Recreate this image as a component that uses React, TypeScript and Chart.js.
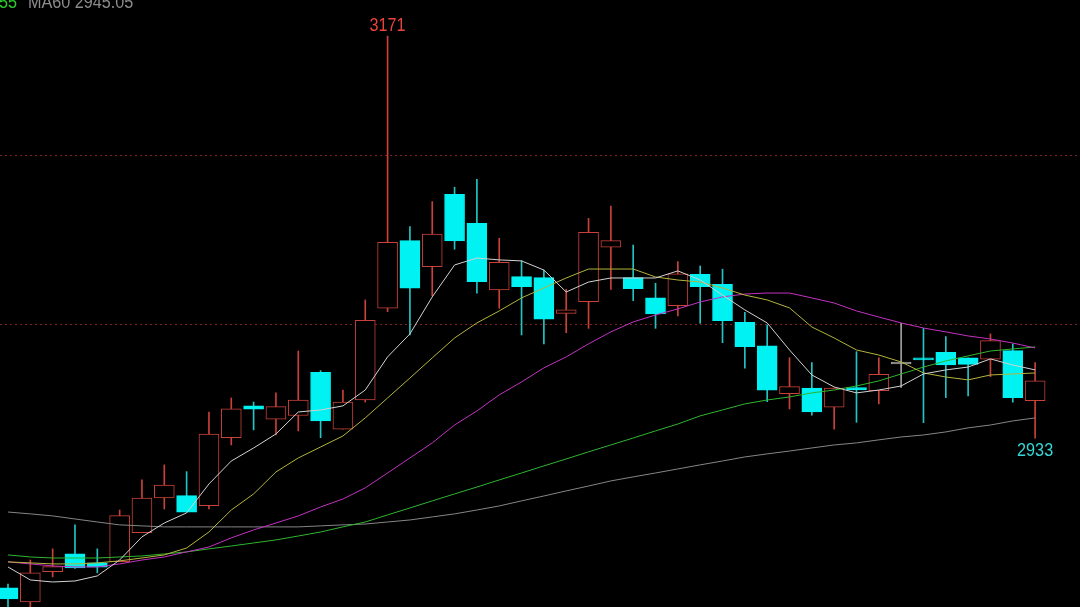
import React, { useEffect, useRef } from "react";
import { Chart, registerables } from "chart.js";

Chart.register(...registerables);

// ---- data ----
const opens = [
  2844.4, 2836.1, 2854.0, 2864.5, 2859.2, 2859.9, 2877.1, 2897.6, 2899.0, 2893.1,
  2933.3, 2952.2, 2944.2, 2946.4, 2972.0, 2938.3, 2955.6, 3009.9, 3049.9, 3034.5,
  3077.3, 3060.2, 3020.7, 3028.6, 3028.0, 3006.9, 3013.8, 3046.0, 3028.0, 3016.1,
  3011.4, 3030.0, 3024.1, 3001.6, 2987.6, 2959.4, 2962.7, 2951.3, 2962.9, 2961.1,
  2976.9, 2980.3, 2983.8, 2980.6, 2979.7, 2984.8, 2955.2,
];
const highs = [
  2846.7, 2860.9, 2867.5, 2881.7, 2867.5, 2890.5, 2908.3, 2917.2, 2913.2, 2948.5,
  2956.8, 2954.4, 2959.8, 2984.6, 2973.0, 2961.5, 3014.8, 3171.0, 3058.2, 3073.0,
  3081.5, 3086.2, 3051.3, 3038.0, 3032.5, 3021.1, 3063.1, 3070.4, 3047.3, 3024.7,
  3037.5, 3034.9, 3033.0, 3007.5, 3000.0, 2980.6, 2977.7, 2962.7, 2984.2, 2980.6,
  3001.0, 2998.0, 2993.1, 2980.6, 2994.7, 2988.8, 2977.7,
];
const lows = [
  2831.4, 2832.5, 2850.9, 2856.0, 2853.3, 2859.9, 2877.1, 2891.1, 2889.2, 2891.1,
  2929.0, 2937.9, 2934.9, 2937.3, 2933.3, 2938.3, 2954.4, 3007.9, 2994.1, 3017.2,
  3044.8, 3018.8, 3009.9, 2994.1, 2988.8, 2995.4, 2998.0, 3021.1, 3014.4, 2998.0,
  3005.3, 3001.0, 2989.5, 2974.4, 2954.6, 2950.3, 2946.6, 2938.3, 2942.4, 2953.3,
  2963.1, 2942.2, 2957.0, 2958.0, 2969.4, 2954.3, 2933.0,
];
const closes = [
  2837.9, 2853.3, 2857.0, 2856.2, 2856.6, 2887.2, 2897.6, 2905.3, 2889.2, 2935.5,
  2950.3, 2950.1, 2951.7, 2955.6, 2943.2, 2954.4, 3002.8, 3048.9, 3021.7, 3053.8,
  3049.7, 3025.6, 3037.1, 3022.7, 3003.4, 3008.9, 3054.8, 3049.9, 3021.5, 3006.5,
  3030.2, 3022.7, 3002.5, 2987.2, 2961.4, 2963.5, 2948.5, 2962.7, 2961.5, 2970.8,
  2976.9, 2979.3, 2976.3, 2976.7, 2990.7, 2957.0, 2966.9,
];

const ma5 = [
  2856.8, 2849.1, 2847.9, 2848.5, 2851.5, 2860.9, 2874.6, 2882.8, 2888.8, 2905.9,
  2919.5, 2927.2, 2935.5, 2948.5, 2949.7, 2952.1, 2961.5, 2981.1, 2994.7, 3016.6,
  3035.5, 3039.6, 3038.5, 3037.9, 3032.5, 3019.5, 3025.4, 3027.8, 3027.8, 3027.8,
  3032.0, 3026.6, 3017.7, 3008.9, 3001.2, 2985.2, 2970.4, 2963.3, 2959.8, 2961.5,
  2963.9, 2971.0, 2973.4, 2975.1, 2979.9, 2976.3, 2973.4,
];
const ma10 = [
  2859.8, 2859.2, 2858.6, 2858.6, 2859.2, 2860.4, 2862.1, 2863.9, 2868.0, 2877.5,
  2890.5, 2900.0, 2913.0, 2921.3, 2927.8, 2934.3, 2945.0, 2956.8, 2968.6, 2980.5,
  2992.3, 3001.2, 3008.3, 3016.0, 3021.9, 3027.8, 3033.1, 3033.1, 3033.1, 3028.4,
  3026.6, 3025.4, 3021.9, 3017.7, 3014.8, 3010.1, 2998.8, 2992.3, 2985.2, 2982.2,
  2978.1, 2971.6, 2969.2, 2967.5, 2970.4, 2971.0, 2971.6,
];
const ma20 = [
  2859.8, 2858.6, 2857.4, 2856.8, 2856.8, 2858.6, 2860.9, 2862.7, 2865.7, 2868.6,
  2874.0, 2878.7, 2882.8, 2887.0, 2892.3, 2897.0, 2903.6, 2912.4, 2921.3, 2930.2,
  2940.8, 2949.1, 2958.6, 2966.3, 2974.6, 2981.1, 2988.8, 2995.9, 3001.8, 3005.9,
  3009.5, 3013.6, 3016.6, 3018.3, 3018.9, 3018.9, 3016.0, 3013.0, 3008.3, 3004.7,
  3001.2, 2998.2, 2995.9, 2993.5, 2991.7, 2989.3, 2986.4,
];
const ma30 = [
  2863.9, 2862.7, 2862.1, 2862.1, 2862.1, 2862.7, 2863.3, 2864.5, 2865.7, 2867.5,
  2869.2, 2871.0, 2872.8, 2875.1, 2877.5, 2880.5, 2883.4, 2887.6, 2891.7, 2895.9,
  2900.0, 2904.1, 2908.3, 2912.4, 2916.6, 2920.7, 2924.9, 2929.0, 2933.1, 2937.3,
  2941.4, 2946.2, 2949.7, 2953.3, 2955.6, 2957.4, 2959.8, 2961.5, 2963.9, 2966.9,
  2971.0, 2975.1, 2978.7, 2981.7, 2984.6, 2985.8, 2987.0,
];
const ma60 = [
  2889.3, 2888.2, 2887.0, 2885.2, 2883.4, 2881.7, 2881.1, 2880.5, 2880.5, 2880.5,
  2880.5, 2880.5, 2880.5, 2880.5, 2881.1, 2881.7, 2882.2, 2883.4, 2884.6, 2886.4,
  2888.2, 2890.5, 2892.9, 2895.9, 2898.8, 2901.8, 2904.7, 2907.7, 2910.1, 2912.4,
  2914.8, 2917.2, 2919.5, 2921.9, 2923.7, 2925.4, 2927.2, 2929.0, 2930.2, 2932.0,
  2933.7, 2934.9, 2936.7, 2939.1, 2940.8, 2943.2, 2945.0,
];

const gridLevels = [3000, 3100];
const headerTail = "55";
const headerMA60 = "MA60 2945.05";

// ---- view configuration ----
const Y_MIN = 2833.1;
const Y_MAX = 3192.3;
const X_MIN = -0.358;
const X_MAX = 48.01;

const RED = "#c8413a";
const CYAN = "#00f2f2";
const CYAN_WICK = "#22c4c4";
const DOJI = "#a0a0a0";

function candleColor(i: number, up: string, down: string, flat: string) {
  if (closes[i] > opens[i]) return up;
  if (closes[i] < opens[i]) return down;
  return flat;
}

const labelPlugin = {
  id: "hlLabels",
  afterDatasetsDraw(chart: any) {
    const ctx = chart.ctx;
    const xs = chart.scales.x;
    const ys = chart.scales.y;
    let hi = 0;
    highs.forEach((v, i) => { if (v > highs[hi]) hi = i; });
    const lo = lows.length - 1; // latest candle's low is marked
    const drawText = (t: string, x: number, y: number, color: string, align: CanvasTextAlign) => {
      ctx.save();
      ctx.font = '18px "Liberation Sans", Arial, sans-serif';
      ctx.fillStyle = color;
      ctx.textAlign = align;
      ctx.textBaseline = "alphabetic";
      ctx.translate(x, y);
      ctx.scale(0.9, 1);
      ctx.fillText(t, 0, 0);
      ctx.restore();
    };
    drawText(String(Math.round(highs[hi])), xs.getPixelForValue(hi), ys.getPixelForValue(highs[hi]) - 5, "#e8443c", "center");
    drawText(String(Math.round(lows[lo])), xs.getPixelForValue(lo), ys.getPixelForValue(lows[lo]) + 17.5, "#34d8d8", "center");
    drawText(headerTail, -1, 7.5, "#2ccc2c", "left");
    drawText(headerMA60, 28, 7.5, "#8c8c8c", "left");
  },
};

export default function App() {
  const ref = useRef<HTMLCanvasElement | null>(null);

  useEffect(() => {
    if (!ref.current) return;
    const idx = opens.map((_, i) => i);
    const lineDs = (label: string, data: number[], color: string) => ({
      type: "line" as const,
      label,
      data: data.map((y, i) => ({ x: i, y })),
      borderColor: color,
      borderWidth: 1,
      pointRadius: 0,
      tension: 0,
      fill: false,
      order: 0,
    });

    const chart = new Chart(ref.current, {
      type: "bar",
      data: {
        datasets: [
          lineDs("MA5", ma5, "#d2d2d2"),
          lineDs("MA10", ma10, "#b4b43c"),
          lineDs("MA20", ma20, "#c232c2"),
          lineDs("MA30", ma30, "#2fb52f"),
          lineDs("MA60", ma60, "#858585"),
          {
            type: "bar",
            label: "body",
            data: idx.map((i) => ({ x: i, y: [opens[i], closes[i]] })) as any,
            backgroundColor: idx.map((i) => candleColor(i, "#000000", CYAN, DOJI)),
            borderColor: idx.map((i) => candleColor(i, RED, CYAN, DOJI)),
            borderWidth: 1,
            borderSkipped: false,
            barThickness: 20,
            minBarLength: 2,
            grouped: false,
            order: 1,
          },
          {
            type: "bar",
            label: "wick",
            data: idx.map((i) => ({ x: i, y: [lows[i], highs[i]] })) as any,
            backgroundColor: idx.map((i) => candleColor(i, RED, CYAN_WICK, DOJI)),
            borderWidth: 0,
            barThickness: 1,
            grouped: false,
            order: 2,
          },
        ],
      },
      options: {
        animation: false,
        responsive: false,
        maintainAspectRatio: false,
        layout: { padding: 0 },
        plugins: {
          legend: { display: false },
          tooltip: { enabled: false },
        },
        scales: {
          x: {
            type: "linear",
            min: X_MIN,
            max: X_MAX,
            offset: false,
            display: false,
          },
          y: {
            type: "linear",
            min: Y_MIN,
            max: Y_MAX,
            ticks: { display: false },
            grid: { color: "#7a2424", drawTicks: false, lineWidth: 1 },
            border: { display: false, dash: [2, 3] },
            afterBuildTicks: (scale: any) => {
              scale.ticks = gridLevels.map((v) => ({ value: v }));
            },
          },
        },
      } as any,
      plugins: [labelPlugin],
    });
    return () => chart.destroy();
  }, []);

  return (
    <div style={{ position: "fixed", left: 0, top: 0, width: 1080, height: 607, background: "#000", overflow: "hidden" }}>
      <canvas ref={ref} width={1080} height={607} style={{ display: "block", width: 1080, height: 607 }} />
    </div>
  );
}
